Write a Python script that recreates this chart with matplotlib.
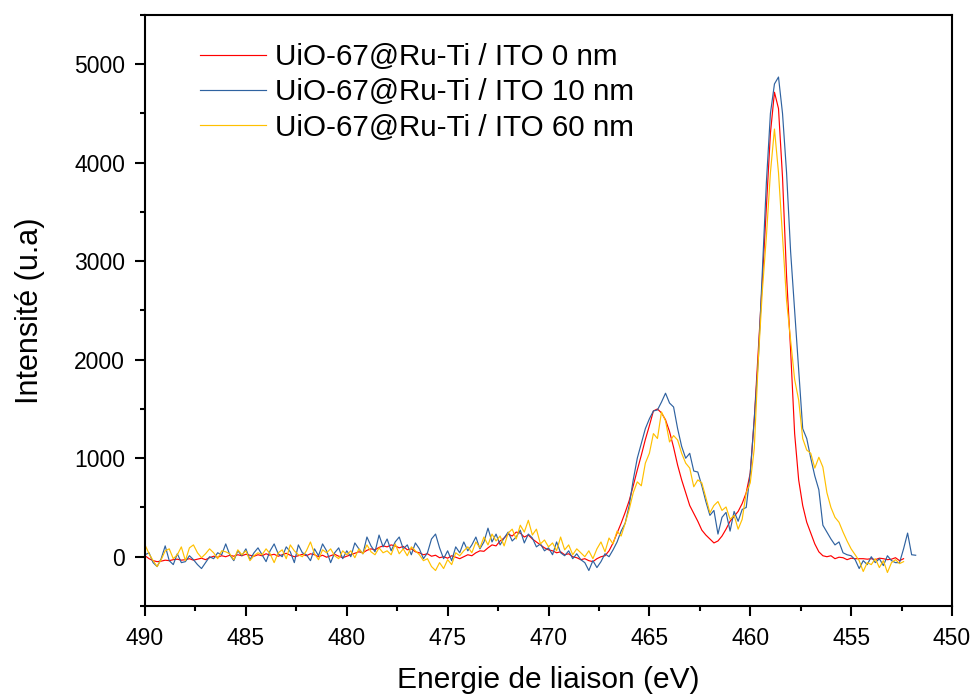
import numpy as np
import matplotlib
matplotlib.use("Agg")
import matplotlib.pyplot as plt
from matplotlib.ticker import MultipleLocator

plt.rcParams['font.family'] = ['Liberation Sans', 'DejaVu Sans']

# Binding energy grid (eV), 0.2 eV step
energy = np.round(np.arange(490.0, 451.75, -0.2), 1)

red_0nm = [
    10, -20, -40, -50, -45, -35, -40, -30, -25, -35,
    -30, -20, -35, -25, -15, -30, -10, 5, -5, 10,
    0, 15, 5, 20, 10, 25, 15, 5, 20, 10,
    30, 15, 25, 5, 20, 35, 15, 0, 10, 25,
    10, 30, 20, 0, 15, -5, 10, 25, 5, -10,
    5, 20, 35, 50, 40, 65, 80, 70, 95, 110,
    100, 120, 110, 90, 105, 70, 80, 50, 40, 20,
    30, 5, 15, -10, 0, -15, 10, -5, -20, 0,
    20, 10, 40, 60, 55, 90, 120, 110, 160, 190,
    230, 210, 250, 240, 200, 220, 180, 150, 120, 90,
    70, 60, 40, 50, 20, 30, 0, -10, -30, -20,
    -40, -50, -20, 0, 10, 60, 140, 240, 340, 450,
    570, 720, 880, 1030, 1190, 1330, 1480, 1500, 1460, 1390,
    1270, 1110, 930, 780, 650, 520, 440, 360, 270, 220,
    180, 140, 160, 210, 280, 360, 410, 460, 540, 650,
    850, 1400, 2100, 2800, 3550, 4300, 4716, 4550, 3850, 2850,
    2100, 1250, 780, 520, 350, 240, 130, 50, 10, 0,
    10, -20, -5, -10, -30, -15, -20, -20, -20, -25,
    -20, -30, -15, -20, -30, -25, -10, -40, -20,
]

blue_10nm = [
    20, 40, -60, -100, -20, 110, -40, -80, 30, -60,
    -50, 10, -30, -80, -120, -60, 0, -20, 40, 20,
    130, 20, -40, 60, 10, 80, -30, 40, 90, 20,
    -50, 60, 130, 30, 0, 100, 50, -60, 120, 40,
    20, -40, 80, 10, 130, 60, -60, 40, 90, -20,
    60, 0, 140, 80, 30, 200, 110, 50, 220, 100,
    180, 60, 150, 200, 80, 120, 20, 140, 80, -20,
    40, 180, 230, 90, -20, 60, -40, 100, 40, 150,
    60, 120, 200, 80, 150, 290, 150, 230, 120, 190,
    250, 160, 200, 270, 140, 230, 190, 100, 130, 60,
    90, 20, 150, 40, 10, 60, -20, 30, -30, -60,
    -140, -40, -110, -50, 30, 0, 70, 150, 260, 340,
    520, 780, 1000, 1150, 1300, 1400, 1480, 1490, 1570, 1660,
    1560, 1520, 1300, 1120, 1000, 1050, 870, 860, 720, 560,
    420, 470, 230, 400, 450, 260, 460, 360, 480, 500,
    850, 1400, 2000, 2900, 3800, 4500, 4800, 4870, 4500, 3900,
    3100, 2500, 1900, 1300, 1200, 1000, 820, 680, 320, 250,
    180, 120, 150, 40, 20, 10, -30, -120, -40, -80,
    0, -60, -20, -90, 10, -40, -60, -60, 80, 240,
    20, 15,
]

yellow_60nm = [
    120, 30, -40, -100, -30, 60, 80, -20, 20, 100,
    -40, 90, 120, 40, -10, 30, 80, 40, -20, 60,
    50, 30, -30, 70, 20, 60, -40, 10, 40, 20,
    80, 30, -60, 40, 70, -20, 120, 60, 20, 0,
    60, 150, 30, -30, 70, 40, 80, 10, -20, 60,
    20, 60, -10, 80, 30, 120, 50, 20, 90, 40,
    60, 20, 130, 30, 80, 10, 100, 60, 20, -40,
    -20, -100, -140, -60, -120, -30, -80, 40, 10, 60,
    100, 40, 150, 90, 200, 120, 230, 160, 210, 110,
    240, 280, 180, 320, 250, 370, 220, 280, 130, 170,
    100, 140, 60, 200, 70, 120, 20, 80, 40, 0,
    60, -20, 80, 150, 50, 190, 130, 260, 210, 340,
    480, 650, 760, 720, 950, 1050, 1250, 1200, 1470, 1380,
    1165, 1230, 1185, 1050, 950, 900, 710, 780, 750, 600,
    445, 520, 560, 470, 505, 380, 420, 280, 380, 650,
    750, 1100, 2000, 2700, 3250, 3900, 4342, 3900, 3250, 2600,
    2200, 1800, 1590, 1200, 1083, 1050, 900, 1010, 910, 650,
    500, 400, 350, 250, 160, 80, 20, -40, -150, -60,
    -80, -20, -110, -40, -160, -60, -30, -70, -50,
]

labels = ["UiO-67@Ru-Ti / ITO 0 nm", "UiO-67@Ru-Ti / ITO 10 nm", "UiO-67@Ru-Ti / ITO 60 nm"]
colors = ["#FF0000", "#2F62A0", "#FFC000"]
series = [red_0nm, blue_10nm, yellow_60nm]

fig = plt.figure(figsize=(9.74, 6.97), dpi=100)
ax = fig.add_axes([0.1489, 0.1306, 0.8285, 0.8479])

for y, c, lab in zip(series, colors, labels):
    ax.plot(energy[:len(y)], y, color=c, lw=0.85, label=lab)

ax.set_xlim(490, 450)
ax.set_ylim(-500, 5500)
ax.xaxis.set_major_locator(MultipleLocator(5))
ax.xaxis.set_minor_locator(MultipleLocator(2.5))
ax.yaxis.set_major_locator(MultipleLocator(1000))
ax.yaxis.set_minor_locator(MultipleLocator(500))

for s in ax.spines.values():
    s.set_linewidth(1.5)
ax.tick_params(which='major', direction='out', length=7.5, width=1.5, labelsize=16.5)
ax.tick_params(axis='x', which='major', pad=8)
ax.tick_params(axis='y', which='major', pad=7)
ax.tick_params(which='minor', direction='out', length=3.5, width=1.5)

ax.set_xlabel("Energie de liaison (eV)", fontsize=21.5, labelpad=11)
ax.set_ylabel("Intensité (u.a)", fontsize=22, labelpad=21)

leg = ax.legend(loc='upper left', bbox_to_anchor=(0.068, 0.952), frameon=False,
                fontsize=21.3, handlelength=2.23, handletextpad=0.3, labelspacing=0.24,
                borderaxespad=0, borderpad=0)

fig.savefig("out.png", dpi=100)
